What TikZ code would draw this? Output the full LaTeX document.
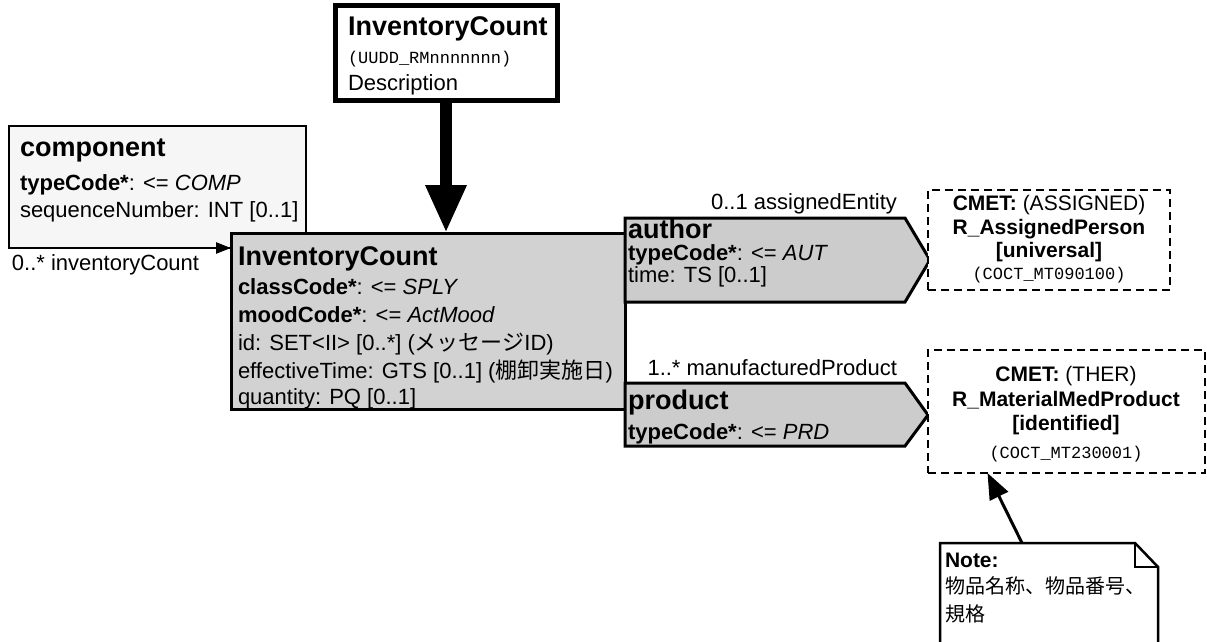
\documentclass[tikz,border=0pt]{standalone}
\usepackage{fontspec}
\setmainfont{Liberation Sans}
\setmonofont{Liberation Mono}
\newfontfamily\jpfont{Noto Sans CJK JP}
\usetikzlibrary{arrows.meta}
\newcommand\clsfont{\bfseries\fontsize{27}{30}\selectfont}
\newcommand\attfont{\fontsize{22}{24}\selectfont}
\newcommand\lblfont{\fontsize{22}{24}\selectfont}
\newcommand\codefont{\ttfamily\fontsize{17}{20}\selectfont}
\newcommand\cmetfont{\fontsize{21}{24}\selectfont}
\newcommand\notefont{\fontsize{20}{24}\selectfont}
\begin{document}
\begin{tikzpicture}[x=1pt,y=-1pt,
  txt/.style={anchor=base west,inner sep=0pt,outer sep=0pt},
  rtxt/.style={anchor=base east,inner sep=0pt,outer sep=0pt},
  ctxt/.style={anchor=base,inner sep=0pt,outer sep=0pt},
  box/.style={rectangle,anchor=north west,inner sep=0pt,outer sep=0pt},
  entrybox/.style={box,draw,line width=5pt,fill=white},
  clsbox/.style={box,draw,line width=3pt,fill=gray!35},
  compbox/.style={box,draw,line width=2.5pt,fill=gray!7},
  partbox/.style={draw,line width=3pt,fill=gray!40,line join=miter},
  cmetbox/.style={box,draw,line width=2.5pt,dash pattern=on 8pt off 5pt,fill=white},
  notebox/.style={draw,line width=2.5pt,fill=white},
  bigarrow/.style={line width=12pt,-{Triangle[length=48pt,width=38pt]}},
  comparrow/.style={line width=2.5pt,-{Triangle[length=15pt,width=11pt]}},
  notearrow/.style={line width=3pt,-{Triangle[length=26pt,width=20pt]}}]
\useasboundingbox (0,0) rectangle (1207,641);

% recursive component class (partly behind the act class)
\node[compbox,minimum width=297pt,minimum height=122pt] (comp) at (9,126) {};
% main act class
\node[clsbox,minimum width=394pt,minimum height=176pt] (main) at (231,233) {};
% entry point
\node[entrybox,minimum width=222pt,minimum height=95pt] (entry) at (335,5) {};

% participations
\coordinate (authnw) at (625,218);
\coordinate (prodnw) at (625,383);
\draw[partbox] (authnw) -- (905,218) -- (930,260) -- (905,302) -- (625,302) -- cycle;
\draw[partbox] (prodnw) -- (905,383) -- (928,415) -- (905,446) -- (625,446) -- cycle;

% CMET boxes
\node[cmetbox,minimum width=242pt,minimum height=100pt] (cmeta) at (928,190) {};
\node[cmetbox,minimum width=277pt,minimum height=123pt] (cmetb) at (928,350) {};

% annotation
\node[box,minimum width=218pt,minimum height=102pt] (note) at (940,543) {};
\draw[notebox] (note.south west) -- (note.north west) -- ([xshift=-23pt]note.north east)
  -- ([yshift=-24pt]note.north east) -- (note.south east);
\draw[line width=2pt] ([xshift=-23pt]note.north east) |- ([yshift=-24pt]note.north east);

% connectors
\draw[bigarrow] (entry.south) -- (entry.south |- main.north);
\draw[comparrow] (comp.south) -- (comp.south -| main.west);
\draw[notearrow] ([xshift=82pt]note.north west) -- ([xshift=-79pt]cmetb.south);

% entry point texts
\node[txt] (entryname) at (348,35) {\clsfont InventoryCount};
\node[txt] (entryid) at (348,63) {\codefont (UUDD\_RMnnnnnnn)};
\node[txt] (entrydesc) at (348,90) {\lblfont Description};

% component texts
\node[txt] (compname) at (20,156) {\clsfont component};
\node[txt] (comptype) at (20,190) {\attfont\textbf{typeCode*}: <= \textit{COMP}};
\node[txt] (compseq) at (20,217) {\attfont sequenceNumber: INT [0..1]};
\node[txt] (compl) at (12,270) {\lblfont 0..* inventoryCount};

% main class texts
\node[txt] (mainname) at (238,265) {\clsfont InventoryCount};
\node[txt] (mainc) at (238,294) {\attfont\textbf{classCode*}: <= \textit{SPLY}};
\node[txt] (mainm) at (238,322) {\attfont\textbf{moodCode*}: <= \textit{ActMood}};
\node[txt] (maini) at (238,350) {\attfont id: SET<II> [0..*] ({\jpfont メッセージ}ID)};
\node[txt] (maine) at (238,378) {\attfont effectiveTime: GTS [0..1] ({\jpfont 棚卸実施日})};
\node[txt] (mainq) at (238,404) {\attfont quantity: PQ [0..1]};

% author participation texts
\node[rtxt] (authl) at (897,209) {\lblfont 0..1 assignedEntity};
\node[txt] (authname) at (628,238) {\clsfont author};
\node[txt] (autht) at (628,260) {\attfont\textbf{typeCode*}: <= \textit{AUT}};
\node[txt] (authtime) at (628,282) {\attfont time: TS [0..1]};

% product participation texts
\node[rtxt] (prodl) at (897,375) {\lblfont 1..* manufacturedProduct};
\node[txt] (prodname) at (628,409) {\clsfont product};
\node[txt] (prodt) at (628,439) {\attfont\textbf{typeCode*}: <= \textit{PRD}};

% CMET texts
\node[ctxt] (cmeta1) at (1049,210) {\cmetfont\textbf{CMET:} (ASSIGNED)};
\node[ctxt] (cmeta2) at (1049,234) {\cmetfont\bfseries R\_AssignedPerson};
\node[ctxt] (cmeta3) at (1049,257) {\cmetfont\bfseries [universal]};
\node[ctxt] (cmeta4) at (1049,279) {\codefont (COCT\_MT090100)};

\node[ctxt] (cmetb1) at (1066,381) {\cmetfont\textbf{CMET:} (THER)};
\node[ctxt] (cmetb2) at (1066,406) {\cmetfont\bfseries R\_MaterialMedProduct};
\node[ctxt] (cmetb3) at (1066,430) {\cmetfont\bfseries [identified]};
\node[ctxt] (cmetb4) at (1066,458) {\codefont (COCT\_MT230001)};

% note texts
\node[txt] (note1) at (945,567) {\fontsize{21}{24}\selectfont\bfseries Note:};
\node[txt] (note2) at (945,593) {\jpfont\notefont 物品名称、物品番号、};
\node[txt] (note3) at (945,621) {\jpfont\notefont 規格};
\end{tikzpicture}
\end{document}
